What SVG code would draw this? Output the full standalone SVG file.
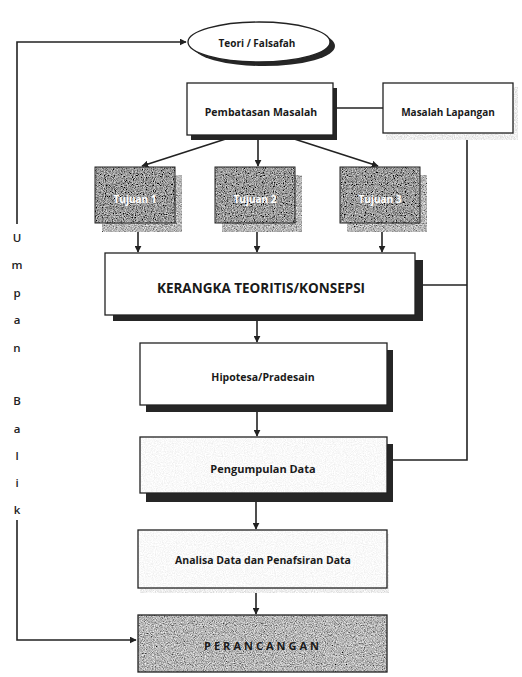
<svg xmlns="http://www.w3.org/2000/svg" width="522" height="677" viewBox="0 0 522 677">
<style>
.t{font-family:"Open Sans","Liberation Sans",sans-serif;font-weight:bold;fill:#1a1a1a;text-anchor:middle;dominant-baseline:central}
.w{fill:#fff}
.box{fill:#fff;stroke:#222;stroke-width:1.3}
.edge{fill:none;stroke:#222;stroke-width:1.6}
.sh{fill:#262626}
.lt{font-family:"Open Sans","Liberation Sans",sans-serif;font-weight:600;font-size:11.5px;fill:#222;text-anchor:middle;dominant-baseline:central}
</style>
<defs>
<marker id="ah" viewBox="0 0 10 10" refX="9" refY="5" markerWidth="7" markerHeight="7" markerUnits="userSpaceOnUse" orient="auto"><path d="M0,0 L10,5 L0,10 z" fill="#222"/></marker>
<filter id="nzDark" x="0" y="0" width="1" height="1">
<feTurbulence type="fractalNoise" baseFrequency="0.9" numOctaves="2" seed="4" result="t"/>
<feColorMatrix in="t" type="matrix" values="1 0 0 0 0 1 0 0 0 0 1 0 0 0 0 0 0 0 0 1" result="g"/>
<feComponentTransfer in="g" result="c"><feFuncR type="linear" slope="1.3" intercept="-0.33"/><feFuncG type="linear" slope="1.3" intercept="-0.33"/><feFuncB type="linear" slope="1.3" intercept="-0.33"/></feComponentTransfer>
<feComposite in="c" in2="SourceAlpha" operator="in"/>
</filter>
<filter id="nzMid" x="0" y="0" width="1" height="1">
<feTurbulence type="fractalNoise" baseFrequency="0.9" numOctaves="2" seed="7" result="t"/>
<feColorMatrix in="t" type="matrix" values="1 0 0 0 0 1 0 0 0 0 1 0 0 0 0 0 0 0 0 1" result="g"/>
<feComponentTransfer in="g" result="c"><feFuncR type="linear" slope="1.3" intercept="-0.18"/><feFuncG type="linear" slope="1.3" intercept="-0.18"/><feFuncB type="linear" slope="1.3" intercept="-0.18"/></feComponentTransfer>
<feComposite in="c" in2="SourceAlpha" operator="in"/>
</filter>
<filter id="nzLight" x="0" y="0" width="1" height="1">
<feTurbulence type="fractalNoise" baseFrequency="0.9" numOctaves="2" seed="9" result="t"/>
<feColorMatrix in="t" type="matrix" values="1 0 0 0 0 1 0 0 0 0 1 0 0 0 0 0 0 0 0 1" result="g"/>
<feComponentTransfer in="g" result="c"><feFuncR type="linear" slope="0.6" intercept="0.55"/><feFuncG type="linear" slope="0.6" intercept="0.55"/><feFuncB type="linear" slope="0.6" intercept="0.55"/></feComponentTransfer>
<feComposite in="c" in2="SourceAlpha" operator="in"/>
</filter>
<filter id="nzWhite" x="0" y="0" width="1" height="1">
<feTurbulence type="fractalNoise" baseFrequency="0.9" numOctaves="2" seed="11" result="t"/>
<feColorMatrix in="t" type="matrix" values="1 0 0 0 0 1 0 0 0 0 1 0 0 0 0 0 0 0 0 1" result="g"/>
<feComponentTransfer in="g" result="c"><feFuncR type="linear" slope="0.3" intercept="0.8"/><feFuncG type="linear" slope="0.3" intercept="0.8"/><feFuncB type="linear" slope="0.3" intercept="0.8"/></feComponentTransfer>
<feComposite in="c" in2="SourceAlpha" operator="in"/>
</filter>
</defs>
<rect width="522" height="677" fill="#fff"/>

<g id="connectors">
<polyline class="edge" points="17,224 17,42 186,42" marker-end="url(#ah)"/>
<polyline class="edge" points="17,520 17,640 136,640" marker-end="url(#ah)"/>
<line class="edge" x1="337" y1="108" x2="383" y2="108"/>
<line class="edge" x1="235" y1="136" x2="142" y2="166" marker-end="url(#ah)"/>
<line class="edge" x1="258" y1="136" x2="258" y2="166" marker-end="url(#ah)"/>
<line class="edge" x1="285" y1="136" x2="378" y2="166" marker-end="url(#ah)"/>
<line class="edge" x1="138" y1="232" x2="138" y2="252" marker-end="url(#ah)"/>
<line class="edge" x1="257" y1="232" x2="257" y2="252" marker-end="url(#ah)"/>
<line class="edge" x1="382" y1="232" x2="382" y2="252" marker-end="url(#ah)"/>
<polyline class="edge" points="467,139 467,460 393,460"/>
<line class="edge" x1="423" y1="285" x2="467" y2="285"/>
<line class="edge" x1="257" y1="321" x2="257" y2="342" marker-end="url(#ah)"/>
<line class="edge" x1="257" y1="412" x2="257" y2="436" marker-end="url(#ah)"/>
<line class="edge" x1="256" y1="502" x2="256" y2="529" marker-end="url(#ah)"/>
<line class="edge" x1="256" y1="590" x2="256" y2="614" marker-end="url(#ah)"/>
</g>

<g id="umpan-balik">
<text class="lt" x="17" y="237">U</text>
<text class="lt" x="17" y="264">m</text>
<text class="lt" x="17" y="292">p</text>
<text class="lt" x="17" y="319">a</text>
<text class="lt" x="17" y="347">n</text>
<text class="lt" x="17" y="400">B</text>
<text class="lt" x="17" y="428">a</text>
<text class="lt" x="17" y="455">l</text>
<text class="lt" x="17" y="482">i</text>
<text class="lt" x="17" y="509">k</text>
</g>

<g id="teori">
<ellipse cx="264" cy="46" rx="71" ry="20" class="sh"/>
<ellipse cx="259" cy="42" rx="71" ry="20" class="box"/>
<text class="t" x="257" y="43" font-size="10">Teori / Falsafah</text>
</g>

<g id="pembatasan">
<rect x="191" y="88" width="146" height="52" class="sh"/>
<rect x="187" y="83" width="146" height="52" class="box"/>
<text class="t" x="261" y="112" font-size="10.5">Pembatasan Masalah</text>
</g>

<g id="masalah-lapangan">
<rect x="386" y="87" width="132" height="53" filter="url(#nzLight)"/>
<rect x="383" y="83" width="130" height="50" class="box"/>
<text class="t" x="448" y="112" font-size="10">Masalah Lapangan</text>
</g>

<g id="tujuan1">
<rect x="102" y="175" width="80" height="57" filter="url(#nzMid)"/>
<rect x="95" y="167" width="80" height="56" filter="url(#nzDark)"/>
<rect x="95" y="167" width="80" height="56" fill="none" stroke="#222" stroke-width="1"/>
<text class="t w" x="135" y="199" font-size="10">Tujuan 1</text>
</g>
<g id="tujuan2">
<rect x="222" y="175" width="80" height="57" filter="url(#nzMid)"/>
<rect x="215" y="167" width="80" height="56" filter="url(#nzDark)"/>
<rect x="215" y="167" width="80" height="56" fill="none" stroke="#222" stroke-width="1"/>
<text class="t w" x="255" y="199" font-size="10">Tujuan 2</text>
</g>
<g id="tujuan3">
<rect x="347" y="175" width="80" height="57" filter="url(#nzMid)"/>
<rect x="340" y="167" width="80" height="56" filter="url(#nzDark)"/>
<rect x="340" y="167" width="80" height="56" fill="none" stroke="#222" stroke-width="1"/>
<text class="t w" x="380" y="199" font-size="10">Tujuan 3</text>
</g>

<g id="kerangka">
<rect x="113" y="260" width="310" height="61" class="sh"/>
<rect x="105" y="253" width="310" height="62" class="box"/>
<text class="t" x="261" y="288" font-size="13.5">KERANGKA TEORITIS/KONSEPSI</text>
</g>

<g id="hipotesa">
<rect x="146" y="350" width="247" height="62" class="sh"/>
<rect x="140" y="343" width="247" height="62" class="box"/>
<text class="t" x="263" y="377" font-size="10.5">Hipotesa/Pradesain</text>
</g>

<g id="pengumpulan">
<rect x="146" y="444" width="247" height="58" class="sh"/>
<rect x="140" y="437" width="247" height="56" filter="url(#nzWhite)"/>
<rect x="140" y="437" width="247" height="56" fill="none" stroke="#222" stroke-width="1.3"/>
<text class="t" x="263" y="468" font-size="11">Pengumpulan Data</text>
</g>

<g id="analisa">
<rect x="140" y="534" width="249" height="59" filter="url(#nzLight)"/>
<rect x="138" y="530" width="249" height="58" filter="url(#nzWhite)"/>
<rect x="138" y="530" width="249" height="58" fill="none" stroke="#222" stroke-width="1.3"/>
<text class="t" x="263" y="560" font-size="10.5">Analisa Data dan Penafsiran Data</text>
</g>

<g id="perancangan">
<rect x="138" y="615" width="249" height="57" filter="url(#nzMid)"/>
<rect x="138" y="615" width="249" height="57" fill="none" stroke="#222" stroke-width="1.3"/>
<text class="t" x="263" y="645" font-size="11" letter-spacing="3">PERANCANGAN</text>
</g>
</svg>
